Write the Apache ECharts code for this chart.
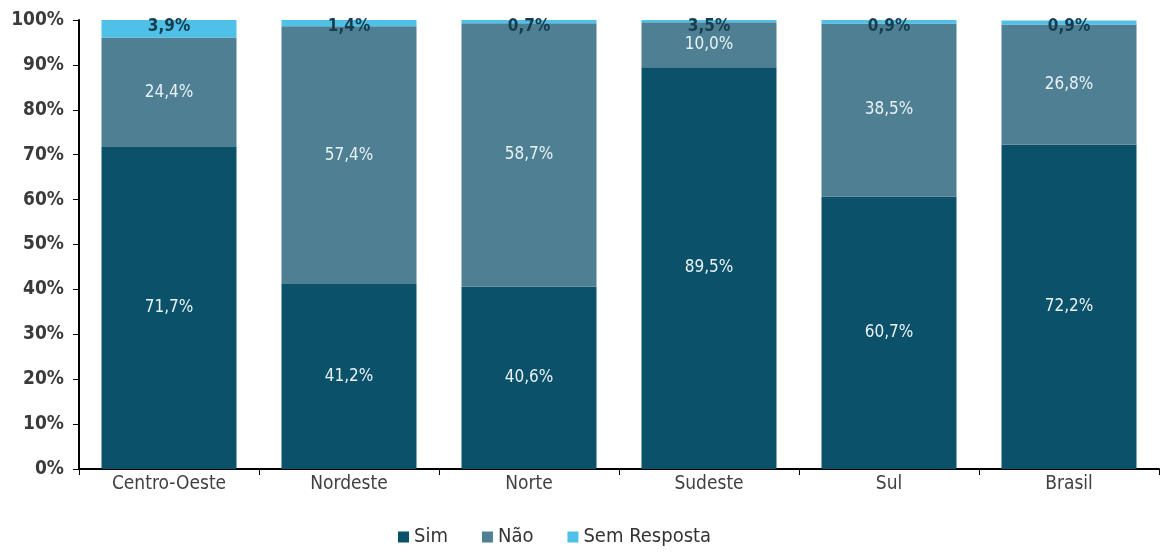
<!DOCTYPE html>
<html>
<head>
<meta charset="utf-8">
<script src="https://cdn.jsdelivr.net/npm/echarts@6/dist/echarts.min.js"></script>
<style>
  html, body { margin: 0; padding: 0; background: #fff; }
  #chart { width: 1171px; height: 554px; }
</style>
</head>
<body>
<div id="chart"></div>
<script>
// Regiões e respostas (% de respondentes)
const categories = ['Centro-Oeste', 'Nordeste', 'Norte', 'Sudeste', 'Sul', 'Brasil'];
const sim = [71.7, 41.2, 40.6, 89.5, 60.7, 72.2];
const nao = [24.4, 57.4, 58.7, 10.0, 38.5, 26.8];
const semResposta = [3.9, 1.4, 0.7, 3.5, 0.9, 0.9];
const yTicks = [0, 10, 20, 30, 40, 50, 60, 70, 80, 90, 100];

const FONT = "'Liberation Sans Narrow', 'DejaVu Sans Condensed', 'Roboto', sans-serif";
const fmt = v => v.toFixed(1).replace('.', ',') + '%';

const chart = echarts.init(document.getElementById('chart'));
chart.setOption({
  animation: false,
  grid: { left: 79, right: 12, top: 20, bottom: 85 },
  legend: {
    bottom: 2,
    left: 393,
    itemWidth: 11,
    itemHeight: 11,
    itemGap: 34,
    icon: 'rect',
    textStyle: { fontFamily: FONT, fontSize: 20, color: '#333' },
    data: ['Sim', 'Não', 'Sem Resposta']
  },
  xAxis: {
    type: 'category',
    data: categories,
    axisLine: { lineStyle: { color: '#000', width: 2 } },
    axisTick: { show: true, length: 6, lineStyle: { color: '#000', width: 1 } },
    axisLabel: { fontFamily: FONT, fontSize: 19, color: '#404040', margin: 6 }
  },
  yAxis: {
    type: 'value',
    min: yTicks[0],
    max: yTicks[yTicks.length - 1],
    interval: 10,
    axisLine: { show: true, lineStyle: { color: '#000', width: 2 } },
    axisTick: { show: true, length: 6, lineStyle: { color: '#000' } },
    splitLine: { show: false },
    axisLabel: {
      fontFamily: FONT, fontSize: 19, fontWeight: 'bold', color: '#3a3a3a', margin: 15,
      formatter: v => v + '%'
    }
  },
  series: [
    {
      name: 'Sim', type: 'bar', stack: 'total', barCategoryGap: '25%',
      data: sim,
      itemStyle: { color: '#0a5169' },
      label: {
        show: true, position: 'inside', color: '#e8f2f5',
        fontFamily: FONT, fontSize: 17, formatter: p => fmt(p.value)
      }
    },
    {
      name: 'Não', type: 'bar', stack: 'total',
      data: nao,
      itemStyle: { color: '#4e7f93' },
      label: {
        show: true, position: 'inside', color: '#e8f2f5',
        fontFamily: FONT, fontSize: 17, formatter: p => fmt(p.value)
      }
    },
    {
      name: 'Sem Resposta', type: 'bar', stack: 'total',
      data: semResposta,
      itemStyle: { color: '#4fc0e8' },
      label: {
        show: true, position: 'insideTop', distance: -2, color: '#173c4d',
        fontFamily: FONT, fontSize: 17, fontWeight: 'bold', formatter: p => fmt(p.value)
      }
    }
  ]
});
</script>
</body>
</html>
